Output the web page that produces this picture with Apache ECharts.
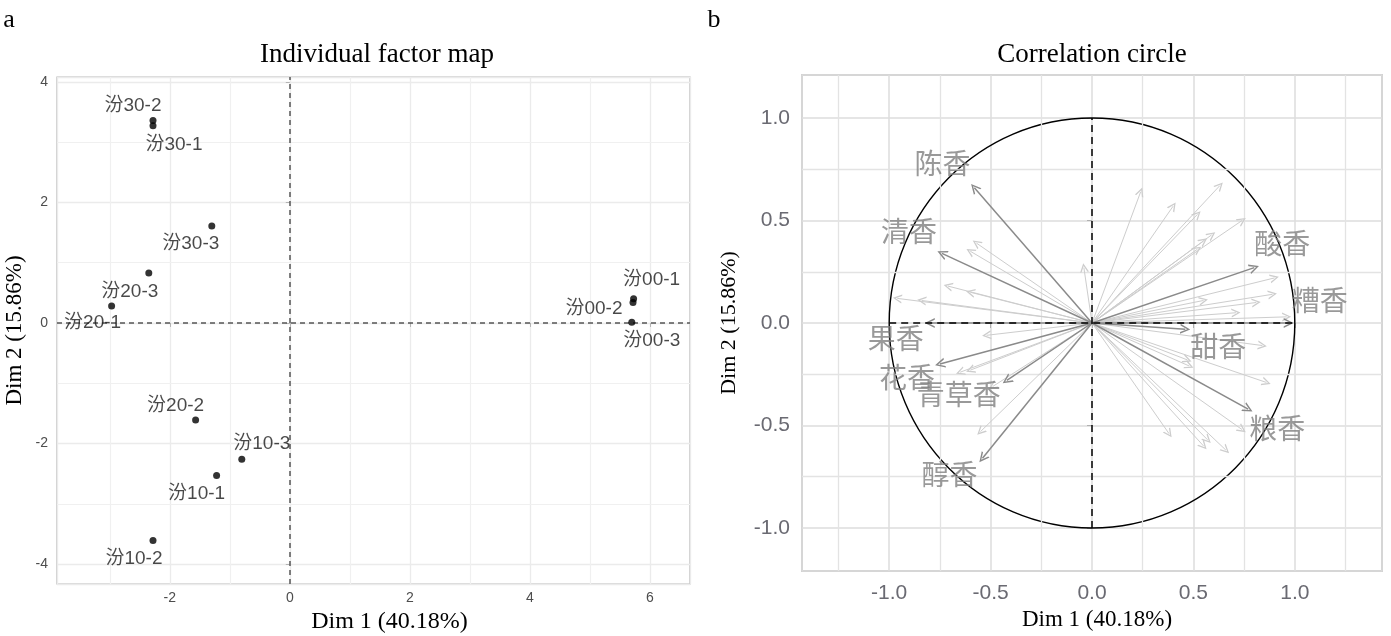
<!DOCTYPE html>
<html><head><meta charset="utf-8">
<script src="https://cdn.jsdelivr.net/npm/echarts@6/dist/echarts.min.js"></script>
<style>html,body{margin:0;padding:0;background:#fff}#main{width:1391px;height:636px}</style>
</head><body><div id="main"></div>
<script>
// ---------------- data ----------------
const sampleNames = ['汾00-1','汾00-2','汾00-3','汾10-1','汾10-2','汾10-3','汾20-1','汾20-2','汾20-3','汾30-1','汾30-2','汾30-3'];
const sampleDim1  = [5.73, 5.72, 5.70, -1.22, -2.28, -0.80, -2.97, -1.57, -2.35, -2.28, -2.28, -1.30];
const sampleDim2  = [0.40, 0.34, 0.01, -2.53, -3.61, -2.26, 0.28, -1.61, 0.83, 3.27, 3.36, 1.61];

const varNames = ['陈香','清香','果香','花香','青草香','醇香','酸香','糟香','甜香','粮香'];
const varDim1  = [-0.58, -0.74, -0.80, -0.75, -0.42, -0.54, 0.80, 0.97, 0.46, 0.77];
const varDim2  = [0.66, 0.34, 0.00, -0.20, -0.28, -0.66, 0.27, 0.00, -0.03, -0.42];

const otherVarDim1 = [0.24, 0.63, 0.40, 0.52, 0.74, 0.59, 0.55, 0.52, 0.90, 0.89, 0.81, 0.55, -0.04, 0.71, 0.96,
                      -0.57, -0.60, -0.71, -0.60, -0.96, -0.84, -0.52,
                      -0.65, -0.60, -0.55, -0.49,
                      0.84, 0.86, 0.48, 0.47, 0.38, 0.55, 0.66, 0.57, 0.74];
const otherVarDim2 = [0.64, 0.67, 0.57, 0.53, 0.50, 0.43, 0.40, 0.36, 0.22, 0.14, 0.10, 0.11, 0.27, 0.05, 0.03,
                      0.39, 0.35, 0.18, 0.15, 0.12, 0.11, -0.06,
                      -0.24, -0.23, -0.53, -0.31,
                      -0.11, -0.29, -0.21, -0.18, -0.54, -0.60, -0.62, -0.57, -0.52];

const indMinorX = [-3, -1, 1, 3, 5];
const indMinorY = [-3, -1, 1, 3];
const varMinor  = [-1.25, -0.75, -0.25, 0.25, 0.75, 1.25];

// ---------------- styling (label offsets in px) ----------------
const indLabelOffset = {
  '汾00-1': [18, -19], '汾00-2': [-39, 6], '汾00-3': [20, 18],
  '汾10-1': [-20, 18], '汾10-2': [-19, 18], '汾10-3': [20, -15],
  '汾20-1': [-19, 17], '汾20-2': [-20, -14], '汾20-3': [-19, 19],
  '汾30-1': [21, 19], '汾30-2': [-20, -15], '汾30-3': [-21, 18]
};
const varLabelOffset = {
  '陈香': [-32, -24], '清香': [-33, -22], '果香': [-34, 15], '花香': [-33, 13],
  '青草香': [-48, 14], '醇香': [-33, 16], '酸香': [28, -24], '糟香': [31, -23],
  '甜香': [33, 17], '粮香': [29, 19]
};
const arrowPath = 'path://M5,0L10,11L8.3,11L5,3.4L1.7,11L0,11Z';
const SANS = '"Liberation Sans", Arial, "Noto Sans CJK SC", sans-serif';
const SERIF = '"Liberation Serif", "Times New Roman", serif';
const CJK = '"Noto Sans CJK SC", sans-serif';

const chart = echarts.init(document.getElementById('main'), null, {renderer: 'canvas'});

function axisCommon(extra) {
  return Object.assign({
    type: 'value',
    axisLine: {show: false},
    axisTick: {show: true, length: 4, lineStyle: {color: '#b3b3b3', width: 1}},
    nameLocation: 'middle'
  }, extra);
}

const option = {
  animation: false,
  backgroundColor: '#fff',
  grid: [
    {left: 57, top: 77, width: 633, height: 507, show: true, borderColor: '#b3b3b3', borderWidth: 1.2, backgroundColor: '#fff', outerBoundsMode: 'none', containLabel: false},
    {left: 802, top: 75, width: 580, height: 496, show: true, borderColor: '#b0b0b0', borderWidth: 1.5, backgroundColor: '#fff', outerBoundsMode: 'none', containLabel: false}
  ],
  xAxis: [
    axisCommon({gridIndex: 0, min: -3.88, max: 6.67, splitNumber: 5,
      axisLabel: {color: '#4d4d4d', fontSize: 14, fontFamily: SANS, margin: 7, showMinLabel: false, showMaxLabel: false},
      splitLine: {show: true, lineStyle: {color: '#ebebeb', width: 1.3}},
      name: 'Dim 1 (40.18%)', nameGap: 23,
      nameTextStyle: {fontFamily: SERIF, fontSize: 24, color: '#000', padding: [0, 0, 0, 32]}}),
    axisCommon({gridIndex: 1, min: -1.43, max: 1.43, splitNumber: 5,
      axisTick: {show: true, length: 5, lineStyle: {color: '#b0b0b0', width: 1}},
      axisLabel: {color: '#6a6a72', fontSize: 21, fontFamily: SANS, margin: 12, showMinLabel: false, showMaxLabel: false,
        formatter: v => v.toFixed(1)},
      splitLine: {show: true, lineStyle: {color: '#dcdcdc', width: 1.5}},
      name: 'Dim 1 (40.18%)', nameGap: 36,
      nameTextStyle: {fontFamily: SERIF, fontSize: 23, color: '#000', padding: [0, 0, 0, 10]}})
  ],
  yAxis: [
    axisCommon({gridIndex: 0, min: -4.33, max: 4.08, splitNumber: 5,
      axisLabel: {color: '#4d4d4d', fontSize: 14, fontFamily: SANS, margin: 9, showMinLabel: false, showMaxLabel: false},
      splitLine: {show: true, lineStyle: {color: '#ebebeb', width: 1.3}},
      name: 'Dim 2 (15.86%)', nameGap: 31,
      nameTextStyle: {fontFamily: SERIF, fontSize: 23, color: '#000'}}),
    axisCommon({gridIndex: 1, min: -1.21, max: 1.21, splitNumber: 5,
      axisTick: {show: true, length: 5, lineStyle: {color: '#b0b0b0', width: 1}},
      axisLabel: {color: '#6a6a72', fontSize: 21, fontFamily: SANS, margin: 12, showMinLabel: false, showMaxLabel: false,
        formatter: v => v.toFixed(1)},
      splitLine: {show: true, lineStyle: {color: '#dcdcdc', width: 1.5}},
      name: 'Dim 2 (15.86%)', nameGap: 62,
      nameTextStyle: {fontFamily: SERIF, fontSize: 22, color: '#000'}})
  ],
  graphic: [
    {type: 'text', x: 377, y: 55, style: {text: 'Individual factor map', font: '27px ' + SERIF, fill: '#000', align: 'center', verticalAlign: 'middle', textAlign: 'center', textVerticalAlign: 'middle'}},
    {type: 'text', x: 1092, y: 55, style: {text: 'Correlation circle', font: '27px ' + SERIF, fill: '#000', align: 'center', verticalAlign: 'middle', textAlign: 'center', textVerticalAlign: 'middle'}},
    {type: 'text', x: 9, y: 20, style: {text: 'a', font: '26px ' + SERIF, fill: '#000', align: 'center', verticalAlign: 'middle', textAlign: 'center', textVerticalAlign: 'middle'}},
    {type: 'text', x: 714, y: 20, style: {text: 'b', font: '26px ' + SERIF, fill: '#000', align: 'center', verticalAlign: 'middle', textAlign: 'center', textVerticalAlign: 'middle'}}
  ],
  series: [
    // minor grid, individuals panel
    {type: 'line', xAxisIndex: 0, yAxisIndex: 0, data: [], silent: true, z: 1,
      markLine: {silent: true, symbol: 'none', label: {show: false}, animation: false,
        lineStyle: {color: '#f0f0f0', width: 1.2, type: 'solid'},
        data: indMinorX.map(v => ({xAxis: v})).concat(indMinorY.map(v => ({yAxis: v})))}},
    // zero lines, individuals panel
    {type: 'line', xAxisIndex: 0, yAxisIndex: 0, data: [], silent: true, z: 2,
      markLine: {silent: true, symbol: 'none', label: {show: false}, animation: false,
        lineStyle: {color: '#555', width: 1.5, type: [5, 4]},
        data: [{xAxis: 0}, {yAxis: 0}]}},
    // individuals
    {type: 'scatter', xAxisIndex: 0, yAxisIndex: 0, symbolSize: 7, z: 5,
      itemStyle: {color: '#000'},
      label: {show: true, position: 'inside', color: '#1a1a1a', fontSize: 19, fontFamily: SANS, formatter: p => p.name},
      data: sampleNames.map((n, i) => ({name: n, value: [sampleDim1[i], sampleDim2[i]], label: {offset: indLabelOffset[n]}}))},
    // minor grid, variables panel
    {type: 'line', xAxisIndex: 1, yAxisIndex: 1, data: [], silent: true, z: 1,
      markLine: {silent: true, symbol: 'none', label: {show: false}, animation: false,
        lineStyle: {color: '#e3e3e3', width: 1.3, type: 'solid'},
        data: varMinor.map(v => ({xAxis: v})).concat(varMinor.map(v => ({yAxis: v})))}},
    // unit circle
    {type: 'custom', xAxisIndex: 1, yAxisIndex: 1, silent: true, z: 4, data: [[0, 0]],
      renderItem: function (params, api) {
        const c = api.coord([0, 0]);
        const ex = api.coord([1, 0]);
        const ey = api.coord([0, 1]);
        return {type: 'ellipse', shape: {cx: c[0], cy: c[1], rx: ex[0] - c[0], ry: c[1] - ey[1]},
          style: {fill: 'none', stroke: '#000', lineWidth: 1.4}};
      }},
    // other (unlabeled) variables
    {type: 'lines', coordinateSystem: 'cartesian2d', xAxisIndex: 1, yAxisIndex: 1, silent: true, z: 5,
      symbol: ['none', arrowPath], symbolSize: 9,
      lineStyle: {color: '#cdcdcd', width: 1, opacity: 1, curveness: 0},
      data: otherVarDim1.map((x, i) => ({coords: [[0, 0], [x, otherVarDim2[i]]]}))},
    // labeled variables
    {type: 'lines', coordinateSystem: 'cartesian2d', xAxisIndex: 1, yAxisIndex: 1, silent: true, z: 6,
      symbol: ['none', arrowPath], symbolSize: 10,
      lineStyle: {color: '#8a8a8a', width: 1.5, opacity: 1, curveness: 0},
      data: varDim1.map((x, i) => ({coords: [[0, 0], [x, varDim2[i]]]}))},
    // dashed axes in circle
    {type: 'lines', coordinateSystem: 'cartesian2d', xAxisIndex: 1, yAxisIndex: 1, silent: true, z: 7,
      symbol: ['none', 'none'],
      lineStyle: {color: '#000', width: 1.5, opacity: 1, type: [7, 5], curveness: 0},
      data: [{coords: [[-1, 0], [1, 0]]}, {coords: [[0, -1], [0, 1]]}]},
    // variable labels
    {type: 'scatter', xAxisIndex: 1, yAxisIndex: 1, symbolSize: 1, silent: true, z: 8,
      itemStyle: {color: 'rgba(0,0,0,0)'},
      label: {show: true, position: 'inside', color: '#7f7f7f', fontSize: 28, fontFamily: CJK, formatter: p => p.name},
      data: varNames.map((n, i) => ({name: n, value: [varDim1[i], varDim2[i]], label: {offset: varLabelOffset[n]}}))}
  ]
};
chart.setOption(option);
</script></body></html>
